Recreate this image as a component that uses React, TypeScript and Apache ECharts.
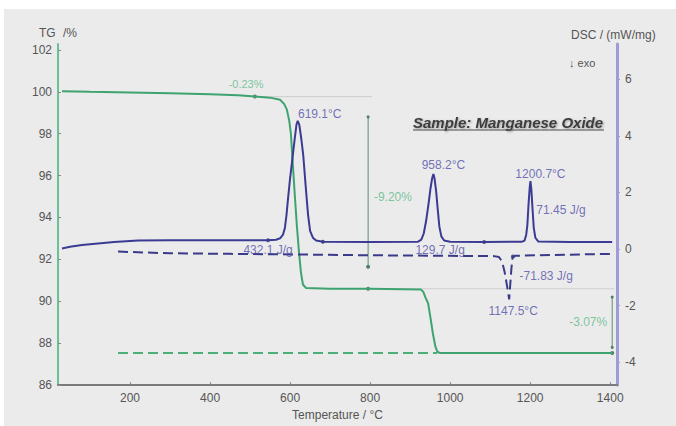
import React, { useEffect, useRef } from "react";
import * as echarts from "echarts";

// ---- measured curves: [temperature °C, value] ----
// TG heating curve (mass %)
const tgHeating: [number, number][] = [
  [30, 100.03], [100, 100.0], [200, 99.97], [300, 99.93], [400, 99.88], [470, 99.83],
  [512, 99.77], [550, 99.72], [575, 99.62], [585, 99.42], [592, 99.15], [598, 98.6],
  [602, 98.0], [607, 96.5], [612, 95.0], [617, 93.6], [622, 92.4], [627, 91.4],
  [632, 90.8], [640, 90.63], [700, 90.6], [800, 90.6], [927, 90.56], [933, 90.45],
  [938, 90.2], [945, 89.9], [951, 89.2], [957, 88.45], [963, 87.85], [968, 87.6],
  [975, 87.53], [1100, 87.53], [1405, 87.53],
];
// TG reference level (dashed)
const tgCooling: [number, number][] = [[170, 87.53], [968, 87.53]];

// DSC heating curve (mW/mg)
const dscHeating: [number, number][] = [
  [30, 0.02], [50, 0.08], [80, 0.14], [120, 0.2], [160, 0.25], [220, 0.3], [300, 0.31],
  [400, 0.31], [500, 0.31], [545, 0.31], [565, 0.33], [575, 0.38], [582, 0.5], [587, 0.74],
  [591, 1.2], [595, 1.8], [600, 2.5], [605, 3.1], [612, 3.95], [616, 4.4], [619.1, 4.53],
  [623, 4.4], [628, 3.9], [633, 3.3], [638, 2.4], [642, 1.7], [645, 1.2], [650, 0.64],
  [657, 0.4], [665, 0.3], [682, 0.26], [800, 0.25], [920, 0.26], [928, 0.33], [934, 0.55],
  [940, 1.0], [946, 1.6], [951, 2.15], [955, 2.5], [958.2, 2.65], [961, 2.5], [965, 2.05],
  [969, 1.4], [973, 0.8], [978, 0.45], [985, 0.3], [1000, 0.26], [1085, 0.25], [1180, 0.26],
  [1186, 0.3], [1190, 0.5], [1193, 0.85], [1196, 1.6], [1199, 2.2], [1200.7, 2.4], [1203, 2.1],
  [1206, 1.4], [1209, 0.75], [1213, 0.4], [1220, 0.27], [1300, 0.25], [1405, 0.25],
];
// DSC cooling curve (dashed)
const dscCooling: [number, number][] = [
  [170, -0.09], [300, -0.15], [450, -0.17], [600, -0.19], [800, -0.22], [1000, -0.24],
  [1110, -0.25], [1122, -0.28], [1130, -0.45], [1136, -0.8], [1141, -1.2], [1145, -1.55],
  [1147.5, -1.78], [1150, -1.3], [1153, -0.7], [1156, -0.3], [1162, -0.24], [1250, -0.21],
  [1405, -0.17],
];

// peak temperatures
const heatingPeaks = [619.1, 958.2, 1200.7];
const coolingPeaks = [1147.5];

// mass-step evaluation
const stepLevels = { start: 99.77, mid: 90.6, end: 87.53 };
const stepBarA: [number, number][] = [[795, 98.8], [795, 91.65]];
const stepBarB: [number, number][] = [[1405, 90.2], [1405, 87.8]];
const tgDots: [number, number][] = [[512, 99.77], [795, 90.6], [795, 91.65], [1405, 87.53]];
const dscDots: [number, number][] = [[545, 0.31], [682, 0.26], [1085, 0.25]];
const coolDots: [number, number][] = [[1157, -0.26]];

// annotation texts and their anchor (temperature, axis value)
const massStepLabels = ["-0.23%", "-9.20%", "-3.07%"];
const massStepAt: [number, number][] = [[490, 100.36], [857, 95.0], [1345, 89.0]];
const enthalpyLabels = ["432.1 J/g", "129.7 J/g", "71.45 J/g", "-71.83 J/g"];
const enthalpyAt: [number, number][] = [[545, -0.02], [975, -0.02], [1277, 1.37], [1240, -0.97]];

const FONT = "'Liberation Sans', Arial, sans-serif";
const GREEN = "#3ea36e";
const GREEN_TXT = "#5cba88";
const BLUE = "#3b3b94";
const BLUE_TXT = "#4f4fa8";
const GREY_TXT = "#555555";

const valueAt = (curve: [number, number][], t: number) =>
  (curve.find((p) => p[0] === t) as [number, number])[1];

const peakLabelOffsets: [number, number][] = [[22, -7], [10, -9], [10, -7]];
const dipLabelOffsets: [number, number][] = [[4, 12]];

const plain = (v: number) => String(v);

export default function App() {
  const ref = useRef<HTMLDivElement>(null);

  useEffect(() => {
    if (!ref.current) return;
    const chart = echarts.init(ref.current, undefined, { renderer: "svg" });

    const textSeries = (
      name: string,
      yAxisIndex: number,
      items: { value: [number, number]; text: string; color: string; size: number; offset?: [number, number] }[]
    ) => ({
      name,
      type: "scatter",
      yAxisIndex,
      symbolSize: 1,
      itemStyle: { color: "rgba(0,0,0,0)" },
      silent: true,
      z: 5,
      data: items.map((it) => ({
        value: it.value,
        label: {
          show: true,
          position: "inside",
          formatter: it.text,
          color: it.color,
          fontSize: it.size,
          fontFamily: FONT,
          offset: it.offset || [0, 0],
        },
      })),
    });

    const option: any = {
      animation: false,
      backgroundColor: "#ebebeb",
      grid: { left: 58, right: 59, top: 44, bottom: 38 },
      xAxis: {
        type: "value",
        min: 20,
        max: 1417,
        splitNumber: 7,
        splitLine: { show: false },
        axisLine: { onZero: false, lineStyle: { color: "#7a7a7a", width: 2 } },
        axisTick: { inside: true, length: 3, lineStyle: { color: "#8a8a8a" } },
        axisLabel: {
          color: GREY_TXT, fontSize: 12, fontFamily: FONT, margin: 7,
          showMinLabel: false, showMaxLabel: false, formatter: plain,
        },
        name: "Temperature / °C",
        nameLocation: "middle",
        nameGap: 17,
        nameTextStyle: { color: GREY_TXT, fontSize: 12, fontFamily: FONT },
      },
      yAxis: [
        {
          type: "value",
          position: "left",
          min: 86,
          max: 102.28,
          interval: 2,
          splitLine: { show: false },
          axisLine: { show: true, onZero: false, lineStyle: { color: "#6cc096", width: 2 } },
          axisTick: { show: true, inside: true, length: 3, lineStyle: { color: "#8a8a8a" } },
          axisLabel: {
            color: GREY_TXT, fontSize: 12, fontFamily: FONT, margin: 6,
            showMaxLabel: false, formatter: plain,
          },
        },
        {
          type: "value",
          position: "right",
          min: -4.81,
          max: 7.25,
          splitNumber: 6,
          splitLine: { show: false },
          axisLine: { show: true, onZero: false, lineStyle: { color: "#9c9cd8", width: 3 } },
          axisTick: { show: true, length: 3, lineStyle: { color: "#9c9cd8" } },
          axisLabel: {
            color: GREY_TXT, fontSize: 12, fontFamily: FONT, margin: 8,
            showMinLabel: false, showMaxLabel: false, formatter: plain,
          },
        },
      ],
      graphic: [
        { type: "rect", shape: { x: 0, y: 0, width: 676, height: 9 }, style: { fill: "#ffffff" }, silent: true },
        { type: "rect", shape: { x: 0, y: 0, width: 4, height: 426 }, style: { fill: "#ffffff" }, silent: true },
        { type: "text", x: 39, y: 33, style: { text: "TG", fill: GREY_TXT, font: `12px ${FONT}`, textVerticalAlign: "middle" } },
        { type: "text", x: 63, y: 33, style: { text: "/%", fill: GREY_TXT, font: `12px ${FONT}`, textVerticalAlign: "middle" } },
        { type: "text", x: 571, y: 35, style: { text: "DSC / (mW/mg)", fill: GREY_TXT, font: `12px ${FONT}`, textVerticalAlign: "middle" } },
        { type: "text", x: 569, y: 63, style: { text: "↓ exo", fill: GREY_TXT, font: `11px ${FONT}`, textVerticalAlign: "middle" } },
        {
          type: "text", x: 413, y: 122,
          style: {
            text: "Sample: Manganese Oxide", fill: "#3c3c3c",
            font: `italic bold 15px ${FONT}`, textVerticalAlign: "middle",
            textShadowColor: "rgba(0,0,0,0.35)", textShadowBlur: 2, textShadowOffsetX: 1, textShadowOffsetY: 1,
          },
        },
        { type: "line", shape: { x1: 413, y1: 130, x2: 604, y2: 130 }, style: { stroke: "#4a4a4a", lineWidth: 1 } },
      ],
      series: [
        // faint evaluation levels
        {
          type: "line", yAxisIndex: 0, showSymbol: false, silent: true,
          lineStyle: { color: "#cfcfcf", width: 1 },
          data: [[512, stepLevels.start], [805, stepLevels.start]],
        },
        {
          type: "line", yAxisIndex: 0, showSymbol: false, silent: true,
          lineStyle: { color: "#cfcfcf", width: 1 },
          data: [[795, stepLevels.mid], [1410, stepLevels.mid]],
        },
        // TG curves
        {
          name: "TG cooling", type: "line", yAxisIndex: 0, showSymbol: false,
          lineStyle: { color: "#4dae7a", width: 2, type: [10, 5] },
          data: tgCooling,
        },
        {
          name: "TG", type: "line", yAxisIndex: 0, showSymbol: false,
          lineStyle: { color: GREEN, width: 2 },
          data: tgHeating,
        },
        // step bars
        {
          type: "line", yAxisIndex: 0, symbol: "circle", symbolSize: 3, silent: true,
          itemStyle: { color: "#4f7f66" },
          lineStyle: { color: "#5b8f72", width: 1 },
          data: stepBarA,
        },
        {
          type: "line", yAxisIndex: 0, symbol: "circle", symbolSize: 3, silent: true,
          itemStyle: { color: "#4f7f66" },
          lineStyle: { color: "#5b8f72", width: 1 },
          data: stepBarB,
        },
        // DSC curves
        {
          name: "DSC cooling", type: "line", yAxisIndex: 1, showSymbol: false,
          lineStyle: { color: "#3a3a8a", width: 2, type: [10, 5] },
          data: dscCooling,
        },
        {
          name: "DSC", type: "line", yAxisIndex: 1, showSymbol: false,
          lineStyle: { color: BLUE, width: 2 },
          data: dscHeating,
        },
        // evaluation dots
        {
          type: "scatter", yAxisIndex: 0, symbolSize: 4, silent: true,
          itemStyle: { color: "#2f6b4c" }, data: tgDots,
        },
        {
          type: "scatter", yAxisIndex: 1, symbolSize: 4, silent: true,
          itemStyle: { color: "#2c2c70" }, data: [...dscDots, ...coolDots],
        },
        // peak temperature labels
        textSeries(
          "peaks", 1,
          heatingPeaks.map((t, i) => ({
            value: [t, valueAt(dscHeating, t)] as [number, number],
            text: `${t.toFixed(1)}°C`, color: BLUE_TXT, size: 12, offset: peakLabelOffsets[i],
          })).concat(
            coolingPeaks.map((t, i) => ({
              value: [t, valueAt(dscCooling, t)] as [number, number],
              text: `${t.toFixed(1)}°C`, color: BLUE_TXT, size: 12, offset: dipLabelOffsets[i],
            }))
          )
        ),
        // enthalpy labels
        textSeries(
          "enthalpy", 1,
          enthalpyLabels.map((s, i) => ({ value: enthalpyAt[i], text: s, color: BLUE_TXT, size: 12 }))
        ),
        // mass step labels
        textSeries(
          "mass steps", 0,
          massStepLabels.map((s, i) => ({ value: massStepAt[i], text: s, color: GREEN_TXT, size: i === 0 ? 11 : 12 }))
        ),
      ],
    };

    chart.setOption(option);
    return () => chart.dispose();
  }, []);

  return (
    <div
      ref={ref}
      style={{ position: "fixed", left: 0, top: 0, width: 676, height: 426 }}
    />
  );
}
